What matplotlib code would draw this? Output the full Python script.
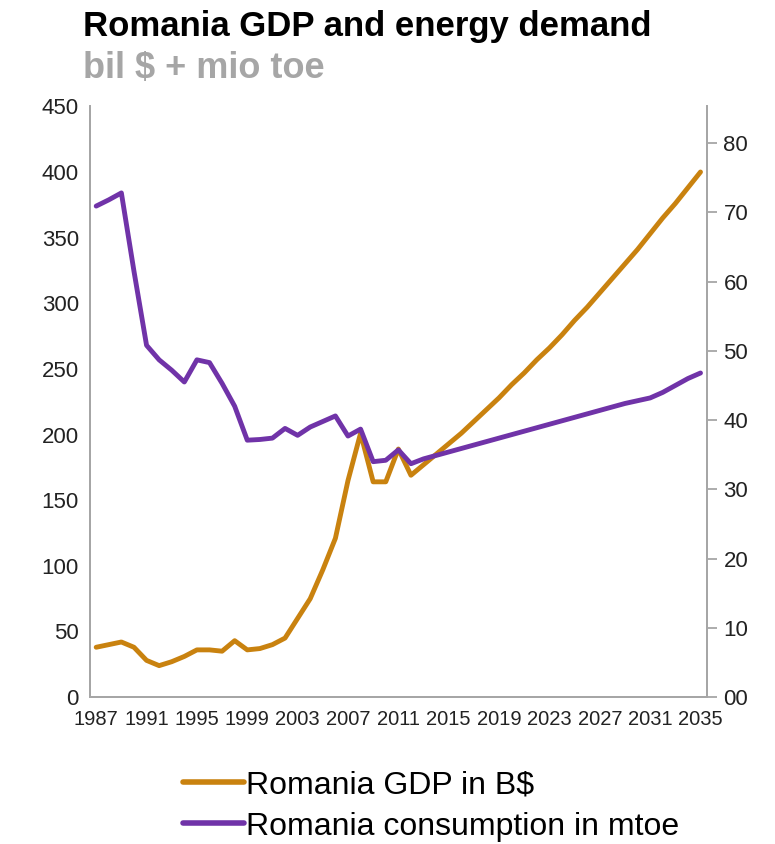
import matplotlib
matplotlib.use("Agg")
import matplotlib.pyplot as plt
from matplotlib.lines import Line2D

plt.rcParams['font.family'] = ['Liberation Sans', 'DejaVu Sans']

years = list(range(1987, 2036))

# GDP in billion $ (left axis)
gdp = [38, 40, 42, 38, 28, 24, 27, 31, 36, 36, 35, 43, 36, 37, 40, 45,
       60, 75, 97, 121, 165, 201, 164, 164, 189, 169,
       177, 185, 193, 201, 210, 219, 228, 238, 247, 257, 266, 276, 287,
       297, 308, 319, 330, 341, 353, 365, 376, 388, 400]

# energy consumption in mtoe (right axis)
energy = [70.9, 71.8, 72.8, 61.5, 50.8, 48.7, 47.2, 45.5, 48.7, 48.3, 45.3,
          42.0, 37.1, 37.2, 37.4, 38.8, 37.8, 39.0, 39.8, 40.6, 37.7, 38.7,
          34.0, 34.2, 35.7, 33.7,
          34.4, 34.9, 35.4, 35.9, 36.4, 36.9, 37.4, 37.9, 38.4, 38.9, 39.4,
          39.9, 40.4, 40.9, 41.4, 41.9, 42.4, 42.8, 43.2, 44.0, 45.0, 46.0, 46.8]

gdp_label = "Romania GDP in B$"
energy_label = "Romania consumption in mtoe"
orange = "#C9820F"
purple = "#7033A8"
spine_grey = "#A6A6A6"

fig = plt.figure(figsize=(7.75, 8.44), dpi=100)
ax = fig.add_axes([0.116, 0.174, 0.796, 0.700])
ax2 = ax.twinx()

ax.plot(years, gdp, color=orange, linewidth=3.5, solid_capstyle='round', solid_joinstyle='round')
ax2.plot(years, energy, color=purple, linewidth=3.5, solid_capstyle='round', solid_joinstyle='round')

ax.set_xlim(1986.5, 2035.5)
ax.set_ylim(0, 450)
ax2.set_ylim(0, 85.3)
ax.set_yticks(range(0, 451, 50))
ax2.set_yticks(range(0, 81, 10))
ax2.set_yticklabels([f"{v:02d}" for v in range(0, 81, 10)])
ax.set_xticks(range(1987, 2036, 4))

for a in (ax, ax2):
    a.spines['top'].set_visible(False)
    for s in ('left', 'right', 'bottom'):
        a.spines[s].set_color(spine_grey)
        a.spines[s].set_linewidth(1.3)

ax.tick_params(axis='y', length=0, pad=8, labelsize=16, labelcolor='#222222')
ax.tick_params(axis='x', length=0, pad=9, labelsize=14.5, labelcolor='#222222')
ax2.tick_params(axis='y', length=7, width=1.3, color=spine_grey, pad=5,
                labelsize=16, labelcolor='#222222')

fig.text(0.107, 0.957, "Romania GDP and energy demand", fontsize=25,
         fontweight='bold', color='black', va='baseline')
fig.text(0.107, 0.908, "bil $ + mio toe", fontsize=26,
         fontweight='bold', color='#A6A6A6', va='baseline')

handles = [Line2D([0], [0], color=orange, linewidth=4, solid_capstyle='round'),
           Line2D([0], [0], color=purple, linewidth=4, solid_capstyle='round')]
fig.legend(handles, [gdp_label, energy_label], loc='center left',
           bbox_to_anchor=(0.220, 0.045), frameon=False, fontsize=23,
           handlelength=1.9, handletextpad=0.05, labelspacing=0.35,
           borderaxespad=0)

fig.savefig("out.png", dpi=100)
